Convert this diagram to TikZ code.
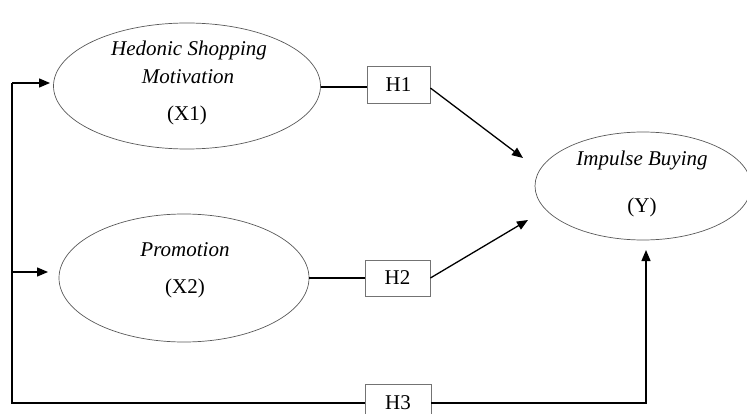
\documentclass[tikz,border=0pt]{standalone}
\usepackage{fontspec}
\setmainfont{Liberation Serif}
\usetikzlibrary{shapes.geometric,arrows.meta,calc}
\begin{document}
\begin{tikzpicture}[x=1pt,y=-1pt,
  ell/.style={draw=black!65,line width=0.7pt,ellipse,inner sep=0pt},
  hbox/.style={draw=black!55,line width=0.8pt,rectangle,inner sep=0pt,font=\fontsize{21}{25}\selectfont},
  lbl/.style={inner sep=0pt,font=\fontsize{21}{25}\selectfont},
  conn/.style={draw=black,line width=1.3pt},
  arr/.style={conn,-{Triangle[length=11pt,width=9pt]}}]
\useasboundingbox (0,0) rectangle (747,414);
% ellipses
\node[ell,minimum width=267,minimum height=126] (x1) at (187,86) {};
\node[ell,minimum width=250,minimum height=128] (x2) at (184,278) {};
\node[ell,minimum width=216,minimum height=108] (y) at (643,186) {};
% texts
\node[lbl] (t1a) at (189,50) {\itshape Hedonic Shopping};
\node[lbl] (t1b) at (188,77) {\itshape Motivation};
\node[lbl] (t1c) at (187,115) {(X1)};
\node[lbl] (t2a) at (185,250) {\itshape Promotion};
\node[lbl] (t2b) at (185,288) {(X2)};
\node[lbl] (tya) at (642,160) {\itshape Impulse Buying};
\node[lbl] (tyb) at (642,207) {(Y)};
% hypothesis boxes
\node[hbox,minimum width=63,minimum height=37] (h1) at (398.5,84.5) {H1};
\node[hbox,minimum width=65,minimum height=36] (h2) at (397.5,278) {H2};
\node[hbox,minimum width=66,minimum height=38] (h3) at (398,403) {H3};
% coordinates
\coordinate (lt) at (12,83);
\coordinate (lm) at (12,272);
\coordinate (lb) at (12,403);
\coordinate (a1) at (50,83);
\coordinate (a2) at (48,272);
\coordinate (tip1) at (523,158);
\coordinate (tip2) at (528,220);
\coordinate (c3) at (646,403);
\coordinate (tip3) at (646,250);
% connectors
\draw[conn] (lt) -- (lb) -- (h3.west);
\draw[arr] (lt) -- (a1);
\draw[arr] (lm) -- (a2);
\draw[conn] (x1.east |- 0,87) -- (h1.west |- 0,87);
\draw[conn] (x2.east) -- (h2.west);
\draw[arr] (h1.east |- 0,88) -- (tip1);
\draw[arr] (h2.east) -- (tip2);
\draw[arr] (h3.east) -- (c3) -- (tip3);
\end{tikzpicture}
\end{document}
